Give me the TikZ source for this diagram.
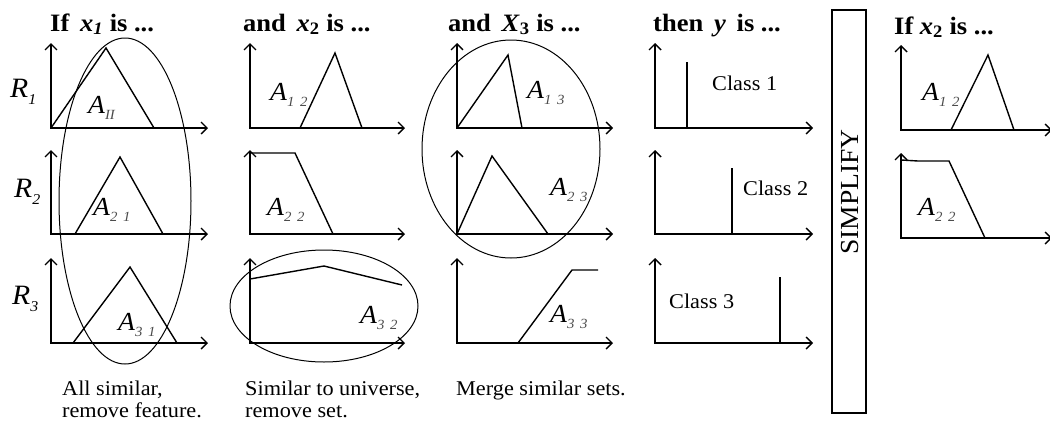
\documentclass[tikz,border=0pt]{standalone}
\usepackage{fontspec}
\setmainfont{Liberation Serif}[FakeStretch=1.06]
\usetikzlibrary{arrows.meta}
\newcommand{\Alab}[2]{\fontsize{26}{26}\selectfont\itshape A\raisebox{-0.25em}{\fontsize{14}{14}\selectfont\color{black!70}#1\hspace{0.4em}#2}}
\newcommand{\Rlab}[1]{\fontsize{28}{28}\selectfont\itshape R\raisebox{-0.25em}{\fontsize{15}{15}\selectfont #1}}
\begin{document}
\begin{tikzpicture}[x=1pt,y=-1pt,
  ax/.style={line width=1.4pt,{Straight Barb[length=6pt,width=12pt,line width=1.4pt]}-{Straight Barb[length=6pt,width=12pt,line width=1.4pt]}},
  mf/.style={line width=1.4pt,line join=miter},
  ell/.style={line width=1pt},
  ttl/.style={anchor=base west,inner sep=0pt,font=\fontsize{25}{25}\selectfont\bfseries},
  lbl/.style={anchor=base west,inner sep=0pt},
  txt/.style={anchor=base west,inner sep=0pt,align=left,font=\fontsize{21}{22}\selectfont},
  cls/.style={anchor=base west,inner sep=0pt,font=\fontsize{21}{21}\selectfont}]
\useasboundingbox (0,0) rectangle (1050,421);
% titles
\node[ttl] (t1) at (50,31) {If \,\textit{x}\textsubscript{\textit{1}} is ...};
\node[ttl] (t2) at (243,31) {and \,\textit{x}\textsubscript{2} is ...};
\node[ttl] (t3) at (448,31) {and \,\textit{X}\textsubscript{3} is ...};
\node[ttl] (t4) at (653,31) {then \,\textit{y} \,is ...};
\node[ttl] (t6) at (894,34) {If \textit{x}\textsubscript{2} is ...};
% row labels
\node[lbl] (r1) at (10,97) {\Rlab{1}};
\node[lbl] (r2) at (14,197) {\Rlab{2}};
\node[lbl] (r3) at (12,304) {\Rlab{3}};
% axes
\foreach \ox/\xe in {51/208,250/405,457/613,655/813}{
  \draw[ax] (\ox,43) -- (\ox,128) -- (\xe,128);
  \draw[ax] (\ox,150) -- (\ox,234) -- (\xe,234);
  \draw[ax] (\ox,258) -- (\ox,343) -- (\xe,343);
}
\draw[ax] (901,45) -- (901,130) -- (1052,130);
\draw[ax] (901,153) -- (901,238) -- (1052,238);
% column 1
\draw[mf] (51,128) -- (106,48) -- (154,128);
\draw[mf] (75,234) -- (120,157) -- (163,234);
\draw[mf] (73,343) -- (130,267) -- (177,343);
\node[lbl] (a11) at (88,113) {\fontsize{26}{26}\selectfont\itshape A\raisebox{-0.25em}{\fontsize{14}{14}\selectfont\color{black!70}II}};
\node[lbl] (a21) at (93,215) {\Alab{2}{1}};
\node[lbl] (a31) at (118,330) {\Alab{3}{1}};
\draw[ell] (125,201) ellipse [x radius=66, y radius=163];
% column 2
\draw[mf] (300,128) -- (335,53) -- (362,128);
\draw[mf] (250,153) -- (295,153) -- (333,234);
\draw[mf] (250,279) -- (324,266) -- (402,285);
\node[lbl] (a12) at (270,100) {\Alab{1}{2}};
\node[lbl] (a22) at (267,215) {\Alab{2}{2}};
\node[lbl] (a32) at (360,323) {\Alab{3}{2}};
\draw[ell] (324,306) ellipse [x radius=94, y radius=56];
% column 3
\draw[mf] (457,128) -- (508,55) -- (522,128);
\draw[mf] (457,234) -- (492,156) -- (548,234);
\draw[mf] (518,343) -- (572,270) -- (598,270);
\node[lbl] (a13) at (527,98) {\Alab{1}{3}};
\node[lbl] (a23) at (550,195) {\Alab{2}{3}};
\node[lbl] (a33) at (550,322) {\Alab{3}{3}};
\draw[ell] (511,149) ellipse [x radius=89, y radius=109];
% column 4
\draw[mf] (687,62) -- (687,128);
\draw[mf] (732,168) -- (732,234);
\draw[mf] (780,277) -- (780,343);
\node[cls] (c1) at (712,90) {Class 1};
\node[cls] (c2) at (743,195) {Class 2};
\node[cls] (c3) at (669,308) {Class 3};
% simplify
\draw[line width=1.4pt] (832,10) rectangle (866,413);
\node[rotate=90,inner sep=0pt,font=\fontsize{26}{26}\selectfont] (simp) at (850,192) {SIMPLIFY};
% column 6
\draw[mf] (951,130) -- (988,55) -- (1014,130);
\draw[mf] (901,160) -- (918,161) -- (949,161) -- (985,238);
\node[lbl] (b12) at (922,100) {\Alab{1}{2}};
\node[lbl] (b22) at (918,215) {\Alab{2}{2}};
% bottom text
\node[txt] (n1) at (62,417) {All similar,\\remove feature.};
\node[txt] (n2) at (245,417) {Similar to universe,\\remove set.};
\node[txt] (n3) at (456,395) {Merge similar sets.};
\end{tikzpicture}
\end{document}
